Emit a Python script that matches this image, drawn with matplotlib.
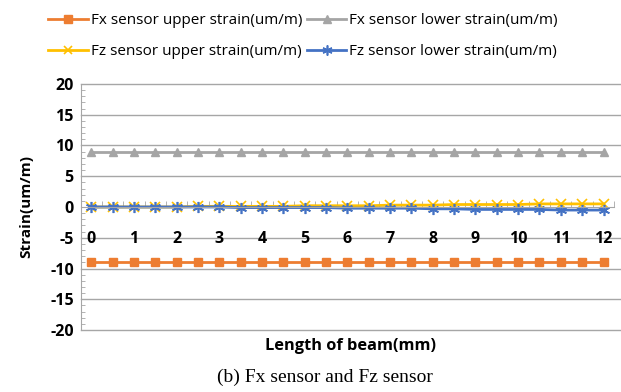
import matplotlib.pyplot as plt
import numpy as np

# beam positions (mm), every 0.5 mm
length = [0, 0.5, 1, 1.5, 2, 2.5, 3, 3.5, 4, 4.5, 5, 5.5, 6, 6.5, 7, 7.5, 8, 8.5,
          9, 9.5, 10, 10.5, 11, 11.5, 12]
fx_upper = [-9.0] * 25
fx_lower = [9.0] * 25
fz_upper = [0.0, 0.0, 0.0, 0.0, 0.0, 0.1, 0.1, 0.1, 0.1, 0.1, 0.2, 0.2, 0.2, 0.2,
            0.3, 0.3, 0.3, 0.4, 0.4, 0.4, 0.4, 0.5, 0.5, 0.5, 0.5]
fz_lower = [0.0, 0.0, 0.0, 0.0, 0.0, 0.0, 0.0, -0.1, -0.1, -0.1, -0.1, -0.1, -0.2,
            -0.2, -0.2, -0.2, -0.3, -0.3, -0.4, -0.4, -0.4, -0.4, -0.5, -0.5, -0.5]
labels = ["Fx sensor upper strain(um/m)", "Fx sensor lower strain(um/m)",
          "Fz sensor upper strain(um/m)", "Fz sensor lower strain(um/m)"]
y_ticks = [20, 15, 10, 5, 0, -5, -10, -15, -20]
x_ticks = list(range(0, 13))

plt.rcParams['font.family'] = ['Open Sans', 'DejaVu Sans']
plt.rcParams['axes.unicode_minus'] = False

fig = plt.figure(figsize=(6.21, 3.92), dpi=100)
ax = fig.add_axes([0.130, 0.158, 0.859, 0.628])

h1, = ax.plot(length, fx_upper, color='#ED7D31', lw=2, marker='s', ms=6, label=labels[0])
h2, = ax.plot(length, fx_lower, color='#A5A5A5', lw=2, marker='^', ms=6, label=labels[1])
h3, = ax.plot(length, fz_upper, color='#FFC000', lw=2, marker='x', ms=7, mew=1.2, label=labels[2])
h4, = ax.plot(length, fz_lower, color='#4472C4', lw=2, marker=(6, 2, 0), ms=8, mew=1.2, label=labels[3])

ax.set_xlim(-0.25, 12.25)
ax.set_ylim(-20, 20)
ax.set_yticks(y_ticks)
ax.set_yticks(np.arange(-20, 21, 1), minor=True)
ax.set_xticks(x_ticks)
ax.set_xticks(np.arange(-0.25, 12.3, 0.5), minor=True)

# gridlines run a little past the last category, as in the original
for y in y_ticks:
    if y != 0:
        ax.plot([-0.25, 12.45], [y, y], color='#A6A6A6', lw=1, zorder=0, clip_on=False)

for s in ['top', 'right']:
    ax.spines[s].set_visible(False)
ax.spines['bottom'].set_position(('data', 0))
ax.spines['bottom'].set_color('#A6A6A6')
ax.spines['left'].set_color('#A6A6A6')

ax.tick_params(axis='y', which='major', length=0, pad=5, labelsize=11.5)
ax.tick_params(axis='y', which='minor', length=3, direction='in', color='#A6A6A6')
ax.tick_params(axis='x', which='major', length=0, pad=17, labelsize=11.5)
ax.tick_params(axis='x', which='minor', length=4, direction='in', color='#A6A6A6')
for t in ax.get_xticklabels() + ax.get_yticklabels():
    t.set_fontweight('bold')

ax.set_ylabel("Strain(um/m)", fontsize=11, fontweight='bold', labelpad=12)
fig.text(0.564, 0.117, "Length of beam(mm)", ha='center', va='center',
         fontsize=11.8, fontweight='bold')
fig.text(0.523, 0.038, "(b) Fx sensor and Fz sensor", ha='center', va='center',
         fontsize=14, family='Liberation Serif')

fig.legend([h1, h3, h2, h4], [labels[0], labels[2], labels[1], labels[3]],
           ncol=2, loc='upper left', bbox_to_anchor=(0.055, 1.002), frameon=False,
           fontsize=11, handlelength=2.6, columnspacing=0.3, handletextpad=0.2,
           labelspacing=1.05, markerscale=0.9)

fig.savefig("out.png", dpi=100)
